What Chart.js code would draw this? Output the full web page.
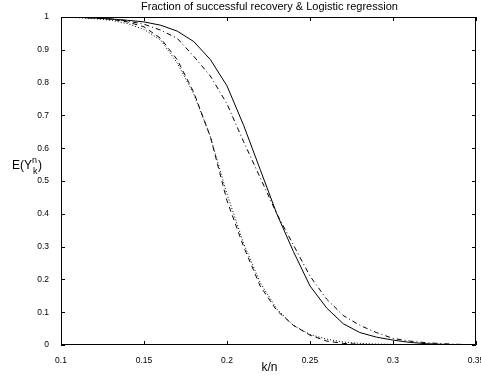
<!DOCTYPE html>
<html>
<head>
<meta charset="utf-8">
<script src="https://cdn.jsdelivr.net/npm/chart.js@4"></script>
<style>
  html, body { margin: 0; padding: 0; background: #fff; }
  #wrap { width: 481px; height: 379px; }
</style>
</head>
<body>
<div id="wrap"><canvas id="grafico" width="481" height="379"></canvas></div>
<script>
// k/n values along the x axis
const kn = [0.10, 0.11, 0.12, 0.13, 0.14, 0.15, 0.16, 0.17, 0.18, 0.19, 0.20, 0.21, 0.22,
            0.23, 0.24, 0.25, 0.26, 0.27, 0.28, 0.29, 0.30, 0.31, 0.32, 0.33, 0.34, 0.35];

// solid line
const solida = [1.0, 0.999, 0.997, 0.994, 0.99, 0.985, 0.975, 0.957, 0.925, 0.87, 0.79, 0.67, 0.535,
                0.40, 0.285, 0.18, 0.113, 0.065, 0.038, 0.024, 0.015, 0.008, 0.004, 0.002, 0.001, 0.0];
// dash-dot line (right pair)
const tracoPonto = [1.0, 0.999, 0.997, 0.994, 0.988, 0.978, 0.96, 0.935, 0.88, 0.82, 0.735, 0.62, 0.51,
                    0.40, 0.305, 0.21, 0.14, 0.09, 0.06, 0.038, 0.02, 0.012, 0.007, 0.004, 0.002, 0.001];
// dashed line (left pair)
const tracejada = [1.0, 0.999, 0.997, 0.993, 0.985, 0.97, 0.935, 0.87, 0.77, 0.635, 0.44, 0.30, 0.18,
                   0.105, 0.06, 0.03, 0.012, 0.005, 0.002, 0.001, 0.0, 0.0, 0.0, 0.0, 0.0, 0.0];
// dotted line (left pair)
const pontilhada = [1.0, 0.998, 0.995, 0.99, 0.98, 0.962, 0.93, 0.86, 0.765, 0.635, 0.46, 0.31, 0.19,
                    0.11, 0.06, 0.032, 0.018, 0.009, 0.005, 0.003, 0.002, 0.001, 0.0, 0.0, 0.0, 0.0];

const xMin = 0.10, xMax = 0.35, xPasso = 0.05;
const yMin = 0, yMax = 1, yPasso = 0.1;

const titulo = "Fraction of successful recovery & Logistic regression";
const rotuloX = "k/n";

function pontos(valores) {
    return kn.map((k, i) => ({ x: k, y: valores[i] }));
}

// MATLAB style labels: 0, 0.1, 0.15, 1
function formatar(v) {
    return String(parseFloat(Number(v).toFixed(2)));
}

// box, inward ticks, title and axis labels like the MATLAB figure
const molduraPlugin = {
    id: 'moldura',
    afterDraw(chart) {
        const ctx = chart.ctx;
        const a = chart.chartArea;
        const sx = chart.scales.x, sy = chart.scales.y;
        ctx.save();
        ctx.strokeStyle = '#000';
        ctx.lineWidth = 1;
        ctx.beginPath();
        ctx.rect(a.left + 0.5, a.top + 0.5, a.right - a.left - 1, a.bottom - a.top - 1);
        ctx.stroke();

        ctx.beginPath();
        sx.ticks.forEach(t => {
            const px = Math.round(sx.getPixelForValue(t.value)) + 0.5;
            ctx.moveTo(px, a.bottom); ctx.lineTo(px, a.bottom - 4);
            ctx.moveTo(px, a.top); ctx.lineTo(px, a.top + 4);
        });
        sy.ticks.forEach(t => {
            const py = Math.round(sy.getPixelForValue(t.value)) + 0.5;
            ctx.moveTo(a.left, py); ctx.lineTo(a.left + 4, py);
            ctx.moveTo(a.right, py); ctx.lineTo(a.right - 4, py);
        });
        ctx.stroke();

        ctx.fillStyle = '#000';
        ctx.font = '11px "Liberation Sans", Arial, sans-serif';
        ctx.textAlign = 'center';
        ctx.textBaseline = 'alphabetic';
        ctx.fillText(titulo, (a.left + a.right) / 2 + 1, 10);
        ctx.font = '12px "Liberation Sans", Arial, sans-serif';
        ctx.fillText(rotuloX, (a.left + a.right) / 2 + 1, 371);

        // E(Y^n_k)
        ctx.textAlign = 'left';
        ctx.font = '12px "Liberation Sans", Arial, sans-serif';
        let x0 = 12, yb = 169;
        ctx.fillText("E(Y", x0, yb);
        let w = ctx.measureText("E(Y").width;
        ctx.font = '9px "Liberation Sans", Arial, sans-serif';
        ctx.fillText("n", x0 + w, yb - 6);
        ctx.fillText("k", x0 + w + 1, yb + 5);
        let w2 = ctx.measureText("n").width;
        ctx.font = '12px "Liberation Sans", Arial, sans-serif';
        ctx.fillText(")", x0 + w + w2 + 1, yb);
        ctx.restore();
    }
};

const fonteTicks = { family: '"Liberation Sans", Arial, sans-serif', size: 8.5 };

function comum(ds) {
    return Object.assign({
        borderColor: '#000',
        borderWidth: 1,
        pointRadius: 0,
        fill: false,
        tension: 0
    }, ds);
}

new Chart(document.getElementById('grafico').getContext('2d'), {
    type: 'line',
    data: {
        datasets: [
            comum({ label: 'solid', data: pontos(solida) }),
            comum({ label: 'dash-dot', data: pontos(tracoPonto), borderDash: [5, 3, 1, 3] }),
            comum({ label: 'dashed', data: pontos(tracejada), borderDash: [5, 4] }),
            comum({ label: 'dotted', data: pontos(pontilhada), borderDash: [1, 2] })
        ]
    },
    options: {
        responsive: false,
        animation: false,
        layout: { padding: { left: 0, right: 5, top: 17, bottom: 0 } },
        plugins: {
            legend: { display: false },
            tooltip: { enabled: false }
        },
        scales: {
            x: {
                type: 'linear',
                min: xMin,
                max: xMax,
                grid: { display: false },
                border: { display: false },
                ticks: { stepSize: xPasso, color: '#000', font: fonteTicks, padding: 3, maxRotation: 0, autoSkip: false,
                         callback: v => formatar(v) },
                afterFit(s) { s.height = 34; s.paddingLeft = 0; s.paddingRight = 0; }
            },
            y: {
                min: yMin,
                max: yMax,
                grid: { display: false },
                border: { display: false },
                ticks: { stepSize: yPasso, color: '#000', font: fonteTicks, padding: 4,
                         callback: v => formatar(v) },
                afterFit(s) { s.width = 61; s.paddingTop = 0; s.paddingBottom = 0; }
            }
        }
    },
    plugins: [molduraPlugin]
});
</script>
</body>
</html>
